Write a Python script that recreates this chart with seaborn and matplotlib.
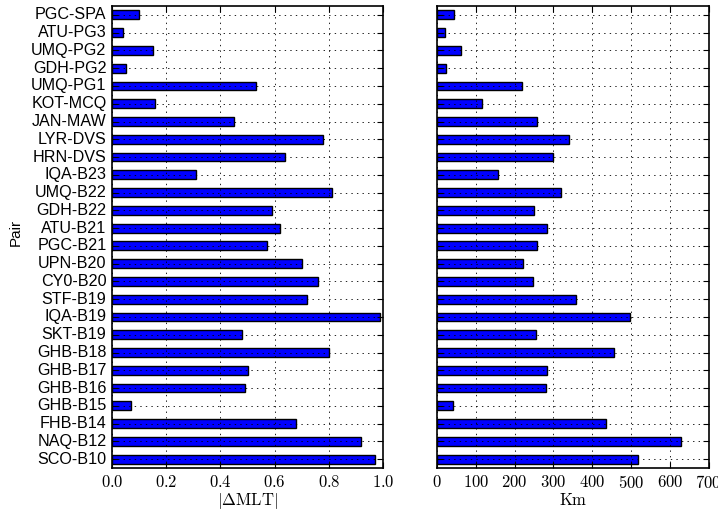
import matplotlib
matplotlib.use('Agg')

import matplotlib.pyplot as plt
from matplotlib.ticker import FuncFormatter
import pandas as pd
import seaborn as sns

# station pairs, top to bottom as drawn
pairs = ['PGC-SPA', 'ATU-PG3', 'UMQ-PG2', 'GDH-PG2', 'UMQ-PG1', 'KOT-MCQ',
         'JAN-MAW', 'LYR-DVS', 'HRN-DVS', 'IQA-B23', 'UMQ-B22', 'GDH-B22',
         'ATU-B21', 'PGC-B21', 'UPN-B20', 'CY0-B20', 'STF-B19', 'IQA-B19',
         'SKT-B19', 'GHB-B18', 'GHB-B17', 'GHB-B16', 'GHB-B15', 'FHB-B14',
         'NAQ-B12', 'SCO-B10']

dmlt = [0.10, 0.04, 0.15, 0.05, 0.53, 0.16, 0.45, 0.78, 0.64, 0.31, 0.81,
        0.59, 0.62, 0.57, 0.70, 0.76, 0.72, 0.99, 0.48, 0.80, 0.50, 0.49,
        0.07, 0.68, 0.92, 0.97]

dist_km = [45, 21, 63, 23, 220, 115, 257, 339, 299, 158, 320, 250, 283, 257,
           222, 247, 359, 498, 254, 455, 284, 282, 41, 436, 629, 517]

plt.style.use('classic')
plt.rcParams['mathtext.fontset'] = 'cm'
plt.rcParams['font.family'] = ['Liberation Sans', 'DejaVu Sans']

df = pd.DataFrame({'pair': pairs, 'dmlt': dmlt, 'km': dist_km})

fig = plt.figure(figsize=(7.18, 5.13), dpi=100, facecolor='white')
ax1 = fig.add_axes([0.156, 0.0877, 0.3775, 0.9006])
ax2 = fig.add_axes([0.6086, 0.0877, 0.3783, 0.9006])

sns.barplot(data=df, x='dmlt', y='pair', orient='h', color='blue', saturation=1,
            edgecolor='black', linewidth=1, width=0.5, errorbar=None, ax=ax1)
sns.barplot(data=df, x='km', y='pair', orient='h', color='blue', saturation=1,
            edgecolor='black', linewidth=1, width=0.5, errorbar=None, ax=ax2)

ax1.set_xlim(0, 1.0)
ax1.set_xticks([0, 0.2, 0.4, 0.6, 0.8, 1.0])
ax1.xaxis.set_major_formatter(FuncFormatter(lambda v, p: '$%.1f$' % v))
ax2.set_xlim(0, 700)
ax2.set_xticks(range(0, 701, 100))
ax2.xaxis.set_major_formatter(FuncFormatter(lambda v, p: '$%d$' % v))

for ax in (ax1, ax2):
    ax.set_facecolor('white')
    ax.set_ylim(len(pairs) - 0.5, -0.5)
    ax.grid(True, linestyle=':', color='black', linewidth=0.6)
    ax.set_axisbelow(False)
    ax.tick_params(direction='in', top=True, right=True, length=4, width=0.8)
    ax.tick_params(axis='x', labelsize=12)
    for s in ax.spines.values():
        s.set_linewidth(1.2)

ax1.tick_params(axis='y', labelsize=11.6)
ax2.tick_params(axis='y', labelleft=False)

ax1.set_xlabel(r'$|\Delta\mathrm{MLT}|$', fontsize=12, labelpad=1)
ax2.set_xlabel(r'$\mathrm{Km}$', fontsize=12, labelpad=1)
ax1.set_ylabel('Pair', fontsize=11)
ax1.yaxis.set_label_coords(-0.33, 0.51)
ax2.set_ylabel('')

plt.savefig('out.png', dpi=100, facecolor='white')
